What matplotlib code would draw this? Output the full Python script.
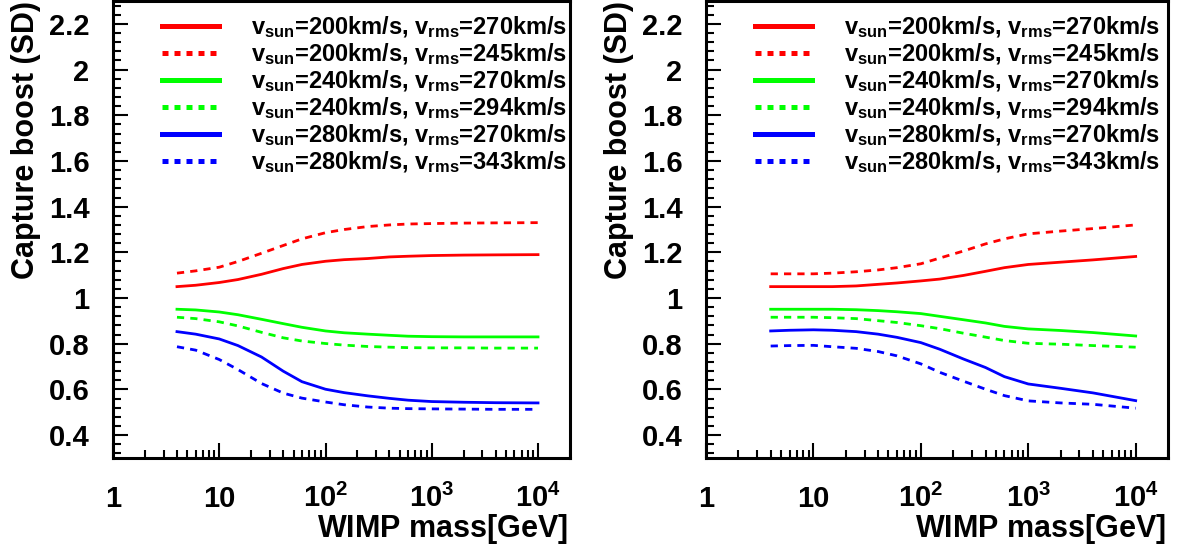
import numpy as np
import matplotlib
matplotlib.use('Agg')
import matplotlib.pyplot as plt
from matplotlib.lines import Line2D
from matplotlib.ticker import FixedLocator, FixedFormatter, MultipleLocator, LogLocator, NullFormatter

plt.rcParams['font.family'] = ['Liberation Sans', 'DejaVu Sans']
plt.rcParams['font.weight'] = 'bold'
plt.rcParams['mathtext.fontset'] = 'custom'
plt.rcParams['mathtext.rm'] = 'Liberation Sans'
plt.rcParams['mathtext.bf'] = 'Liberation Sans:bold'
plt.rcParams['mathtext.it'] = 'Liberation Sans:bold'

# WIMP mass [GeV]
mass = [4, 6, 10, 15, 25, 40, 60, 100, 150, 250, 400, 600, 1000, 2000, 4000, 10000]

# left panel
left_red_solid = [1.050, 1.056, 1.068, 1.081, 1.104, 1.129, 1.147, 1.161, 1.168, 1.173, 1.180, 1.183, 1.186, 1.188, 1.189, 1.190]
left_red_dash = [1.109, 1.119, 1.135, 1.160, 1.196, 1.230, 1.259, 1.286, 1.300, 1.313, 1.320, 1.324, 1.326, 1.328, 1.329, 1.330]
left_green_solid = [0.951, 0.948, 0.939, 0.927, 0.907, 0.888, 0.872, 0.856, 0.848, 0.842, 0.837, 0.833, 0.831, 0.830, 0.830, 0.830]
left_green_dash = [0.916, 0.910, 0.896, 0.878, 0.850, 0.826, 0.812, 0.801, 0.794, 0.788, 0.785, 0.783, 0.782, 0.782, 0.781, 0.781]
left_blue_solid = [0.853, 0.842, 0.821, 0.792, 0.742, 0.680, 0.634, 0.601, 0.586, 0.572, 0.561, 0.553, 0.547, 0.544, 0.542, 0.541]
left_blue_dash = [0.787, 0.772, 0.731, 0.687, 0.626, 0.584, 0.562, 0.545, 0.533, 0.523, 0.518, 0.516, 0.515, 0.514, 0.513, 0.513]

# right panel
right_red_solid = [1.050, 1.050, 1.050, 1.050, 1.053, 1.060, 1.066, 1.075, 1.083, 1.099, 1.117, 1.133, 1.147, 1.157, 1.167, 1.182]
right_red_dash = [1.106, 1.106, 1.106, 1.109, 1.115, 1.123, 1.133, 1.150, 1.175, 1.206, 1.237, 1.259, 1.281, 1.293, 1.304, 1.320]
right_green_solid = [0.951, 0.951, 0.951, 0.951, 0.949, 0.945, 0.940, 0.932, 0.920, 0.905, 0.891, 0.876, 0.865, 0.858, 0.849, 0.834]
right_green_dash = [0.916, 0.916, 0.916, 0.914, 0.910, 0.901, 0.893, 0.879, 0.866, 0.846, 0.829, 0.814, 0.802, 0.798, 0.792, 0.785]
right_blue_solid = [0.856, 0.859, 0.861, 0.859, 0.853, 0.842, 0.828, 0.805, 0.776, 0.733, 0.696, 0.656, 0.624, 0.605, 0.585, 0.551]
right_blue_dash = [0.790, 0.792, 0.793, 0.787, 0.780, 0.766, 0.747, 0.712, 0.675, 0.636, 0.601, 0.573, 0.550, 0.541, 0.535, 0.518]

v_sun = ['200', '200', '240', '240', '280', '280']
v_rms = ['270', '245', '270', '294', '270', '343']
colors = ['#ff0000', '#ff0000', '#00ff00', '#00ff00', '#0000ff', '#0000ff']
dashed = [False, True, False, True, False, True]

x_ticks = [1, 10, 100, 1000, 10000]
x_ticklabels = ['1', '10', r'$\mathbf{10}^{\mathbf{2}}$', r'$\mathbf{10}^{\mathbf{3}}$', r'$\mathbf{10}^{\mathbf{4}}$']

labels = [r'$\mathbf{v}_{\mathbf{sun}}$=%skm/s, $\mathbf{v}_{\mathbf{rms}}$=%skm/s' % (a, b)
          for a, b in zip(v_sun, v_rms)]

fig = plt.figure(figsize=(11.78, 5.5), dpi=100)
ax1 = fig.add_axes([113 / 1178, 92 / 550, 457 / 1178, 457 / 550])
ax2 = fig.add_axes([706 / 1178, 92 / 550, 462 / 1178, 457 / 550])

panels = [
    (ax1, [left_red_solid, left_red_dash, left_green_solid, left_green_dash, left_blue_solid, left_blue_dash]),
    (ax2, [right_red_solid, right_red_dash, right_green_solid, right_green_dash, right_blue_solid, right_blue_dash]),
]

for ax, series in panels:
    for ys, c, d in zip(series, colors, dashed):
        ls = (0, (2.6, 2.2)) if d else '-'
        ax.plot(mass, ys, color=c, lw=2.0, linestyle=ls)

    ax.set_xscale('log')
    ax.set_xlim(1, 2e4)
    ax.set_ylim(0.3, 2.3)

    ax.xaxis.set_major_locator(FixedLocator(x_ticks))
    ax.xaxis.set_major_formatter(FixedFormatter(x_ticklabels))
    ax.xaxis.set_minor_locator(LogLocator(base=10, subs=np.arange(2, 10)))
    ax.xaxis.set_minor_formatter(NullFormatter())
    ax.yaxis.set_major_locator(MultipleLocator(0.2))
    ax.yaxis.set_minor_locator(MultipleLocator(0.04))
    ax.yaxis.set_major_formatter(plt.FuncFormatter(lambda v, p: ('%.1f' % v).rstrip('0').rstrip('.')))

    ax.tick_params(which='both', direction='in', top=False, right=False, width=1.5)
    ax.tick_params(which='major', length=11)
    ax.tick_params(which='minor', length=5.5)
    ax.tick_params(axis='y', labelsize=21, pad=17)
    ax.tick_params(axis='x', labelsize=21, pad=35)
    for lbl in ax.get_xticklabels():
        lbl.set_va('baseline')
    for sp in ax.spines.values():
        sp.set_linewidth(2.2)

    ax.set_xlabel(r'WIMP mass$\mathrm{[}$GeV$\mathrm{]}$', fontsize=22, fontweight='bold', loc='right')
    ax.set_ylabel('Capture boost (SD)', fontsize=22, fontweight='bold', loc='top')
    ax.xaxis.set_label_coords(0.995, -0.118)
    w = ax.get_position().width * 1178
    ax.yaxis.set_label_coords(-72 / w, 1.0)

    handles = [Line2D([], [], color=c, lw=3.6, linestyle=(0, (1.2, 1.2)) if d else '-')
               for c, d in zip(colors, dashed)]
    ax.legend(handles, labels, loc='upper left', bbox_to_anchor=(49 / w, 1 - 13 / 457),
              frameon=False, prop={'size': 17, 'weight': 'bold'}, handlelength=2.4,
              handletextpad=1.35, labelspacing=0.05, borderpad=0, borderaxespad=0)

fig.savefig('out.png', dpi=100)
